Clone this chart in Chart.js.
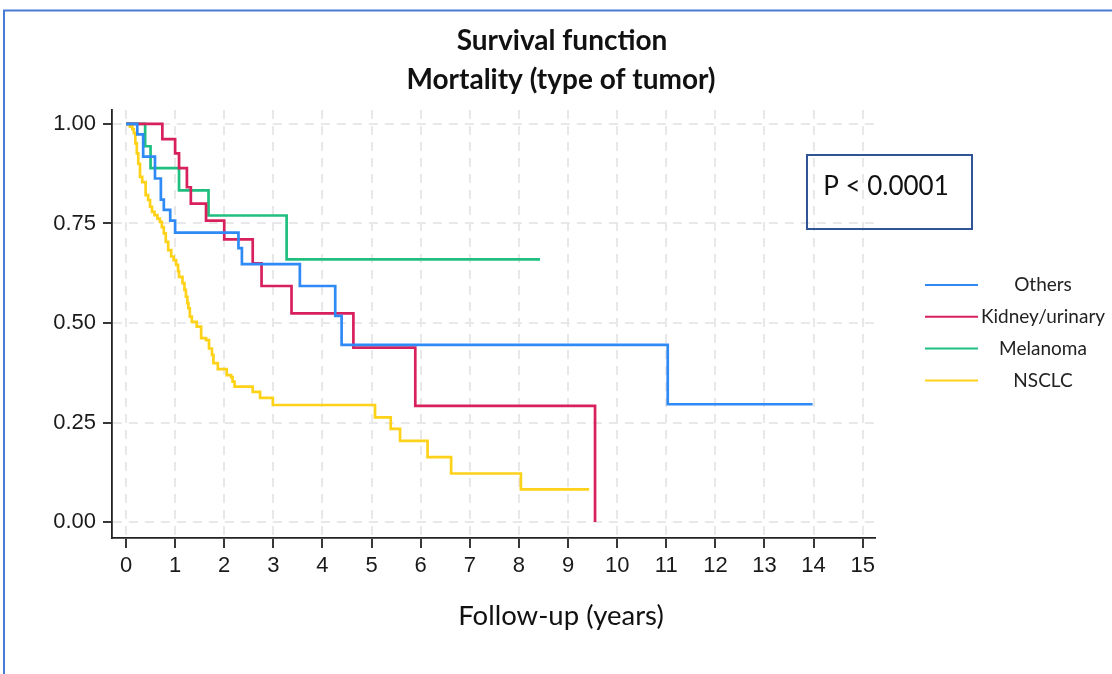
<!DOCTYPE html>
<html lang="en">
<head>
<meta charset="UTF-8">
<title>Survival function - Mortality (type of tumor)</title>
<script src="https://cdn.jsdelivr.net/npm/chart.js@4.4.1/dist/chart.umd.min.js"></script>
<style>
    html, body { margin: 0; padding: 0; background: #fff; }
    #wrap { width: 1112px; height: 674px; position: relative; }
</style>
</head>
<body>
<div id="wrap"><canvas id="km"></canvas></div>
<script>
// Kaplan-Meier steps: follow-up (years) and survival after each step
const othersTime = [0, 0.23, 0.35, 0.59, 0.71, 0.77, 0.90, 1.00, 2.29, 2.36, 3.54, 4.26, 4.39, 11.03, 13.98];
const othersSurv = [1.000, 0.974, 0.918, 0.863, 0.810, 0.784, 0.757, 0.727, 0.688, 0.648, 0.593, 0.518, 0.445, 0.296, 0.296];

const kidneyTime = [0, 0.74, 1.00, 1.08, 1.24, 1.32, 1.63, 2.00, 2.58, 2.76, 3.37, 4.63, 5.89, 9.55];
const kidneySurv = [1.000, 0.962, 0.926, 0.889, 0.841, 0.800, 0.757, 0.710, 0.650, 0.593, 0.524, 0.438, 0.292, 0.000];

const melanomaTime = [0, 0.39, 0.50, 1.08, 1.68, 3.27, 8.43];
const melanomaSurv = [1.000, 0.944, 0.889, 0.833, 0.770, 0.660, 0.660];

const nsclcTime = [0, 0.08, 0.13, 0.16, 0.19, 0.22, 0.25, 0.285, 0.33, 0.40,
    0.45, 0.49, 0.53, 0.58, 0.64, 0.69, 0.73, 0.77, 0.81, 0.86,
    0.92, 0.97, 1.02, 1.06, 1.08, 1.15, 1.19, 1.22, 1.25, 1.27,
    1.30, 1.34, 1.44, 1.53, 1.63, 1.69, 1.75, 1.78, 1.87, 2.05,
    2.14, 2.17, 2.21, 2.58, 2.73, 2.99, 5.07, 5.39, 5.58, 6.14,
    6.62, 8.04, 9.43];
const nsclcSurv = [1.000, 0.993, 0.987, 0.977, 0.951, 0.926, 0.900, 0.867, 0.854, 0.821,
    0.809, 0.792, 0.779, 0.771, 0.762, 0.754, 0.741, 0.725, 0.704, 0.683,
    0.667, 0.658, 0.646, 0.630, 0.616, 0.600, 0.583, 0.566, 0.550, 0.537,
    0.516, 0.503, 0.491, 0.462, 0.457, 0.436, 0.420, 0.399, 0.384, 0.369,
    0.364, 0.353, 0.340, 0.327, 0.312, 0.294, 0.263, 0.234, 0.204, 0.163,
    0.122, 0.082, 0.082];

const seriesLabels = ['Others', 'Kidney/urinary', 'Melanoma', 'NSCLC'];
const seriesColors = ['#2f8af5', '#d8215c', '#1fbf80', '#ffd21a'];

const xTicks = [0, 1, 2, 3, 4, 5, 6, 7, 8, 9, 10, 11, 12, 13, 14, 15];
const yTicks = [0, 0.25, 0.5, 0.75, 1];

const titleLines = ['Survival function', 'Mortality (type of tumor)'];
const xTitle = 'Follow-up (years)';
const pValueText = 'P < 0.0001';

function toPoints(times, surv) {
    return times.map((t, i) => ({ x: t, y: surv[i] }));
}

const seriesData = [
    toPoints(othersTime, othersSurv),
    toPoints(kidneyTime, kidneySurv),
    toPoints(melanomaTime, melanomaSurv),
    toPoints(nsclcTime, nsclcSurv)
];

// frame, titles, p-value box and legend drawn on top of the chart
const decorations = {
    id: 'decorations',
    afterDraw(chart) {
        const ctx = chart.ctx;
        ctx.save();

        ctx.strokeStyle = '#4a7bd4';
        ctx.lineWidth = 2;
        ctx.beginPath();
        ctx.moveTo(4, 674);
        ctx.lineTo(4, 10.5);
        ctx.lineTo(1112, 10.5);
        ctx.stroke();

        ctx.fillStyle = '#111';
        ctx.textAlign = 'center';
        ctx.textBaseline = 'middle';
        ctx.font = 'bold 28px Lato';
        ctx.fillText(titleLines[0], 562, 41);
        ctx.fillText(titleLines[1], 561, 80);

        ctx.font = '27.5px Lato';
        ctx.fillText(xTitle, 561, 616);

        ctx.strokeStyle = '#2f5597';
        ctx.lineWidth = 2;
        ctx.strokeRect(807, 155, 165, 74);
        ctx.font = '26px Lato';
        ctx.fillText(pValueText, 886, 187);

        ctx.font = '19px Lato';
        chart.data.datasets.forEach((ds, i) => {
            const y = 285 + i * 31.8;
            ctx.strokeStyle = ds.borderColor;
            ctx.lineWidth = 2;
            ctx.beginPath();
            ctx.moveTo(925, y);
            ctx.lineTo(978, y);
            ctx.stroke();
            ctx.fillStyle = '#222';
            ctx.fillText(ds.label, 1043, y);
        });

        ctx.restore();
    }
};

const ctx = document.getElementById('km').getContext('2d');
new Chart(ctx, {
    type: 'line',
    data: {
        datasets: seriesLabels.map((label, i) => ({
            label: label,
            data: seriesData[i],
            borderColor: seriesColors[i],
            backgroundColor: seriesColors[i],
            borderWidth: 2.7,
            stepped: 'before',
            pointRadius: 0,
            fill: false,
            borderJoinStyle: 'miter'
        }))
    },
    options: {
        responsive: true,
        maintainAspectRatio: false,
        animation: false,
        layout: { padding: { top: 110, right: 237, bottom: 0, left: 0 } },
        plugins: {
            legend: { display: false },
            title: { display: false },
            tooltip: { enabled: false }
        },
        scales: {
            x: {
                type: 'linear',
                min: -0.285,
                max: 15.25,
                afterFit: s => { s.height = 136; },
                afterBuildTicks: s => { s.ticks = xTicks.map(v => ({ value: v })); },
                ticks: {
                    font: { family: 'Liberation Sans', size: 22 },
                    color: '#1a1a1a',
                    padding: 5,
                    maxRotation: 0
                },
                grid: {
                    color: '#e8e8e8',
                    lineWidth: 2,
                    tickLength: 10,
                    tickColor: '#222',
                    tickWidth: 1.8,
                    tickBorderDash: []
                },
                border: { color: '#222', width: 1.8, dash: [9, 7] }
            },
            y: {
                type: 'linear',
                min: -0.04,
                max: 1.035,
                afterFit: s => { s.width = 112; },
                afterBuildTicks: s => { s.ticks = yTicks.map(v => ({ value: v })); },
                ticks: {
                    font: { family: 'Liberation Sans', size: 22 },
                    color: '#1a1a1a',
                    padding: 7,
                    callback: v => v.toFixed(2)
                },
                grid: {
                    color: '#e8e8e8',
                    lineWidth: 2,
                    tickLength: 9,
                    tickColor: '#222',
                    tickWidth: 1.8,
                    tickBorderDash: []
                },
                border: { color: '#222', width: 1.8, dash: [9, 7] }
            }
        }
    },
    plugins: [decorations]
});
</script>
</body>
</html>
